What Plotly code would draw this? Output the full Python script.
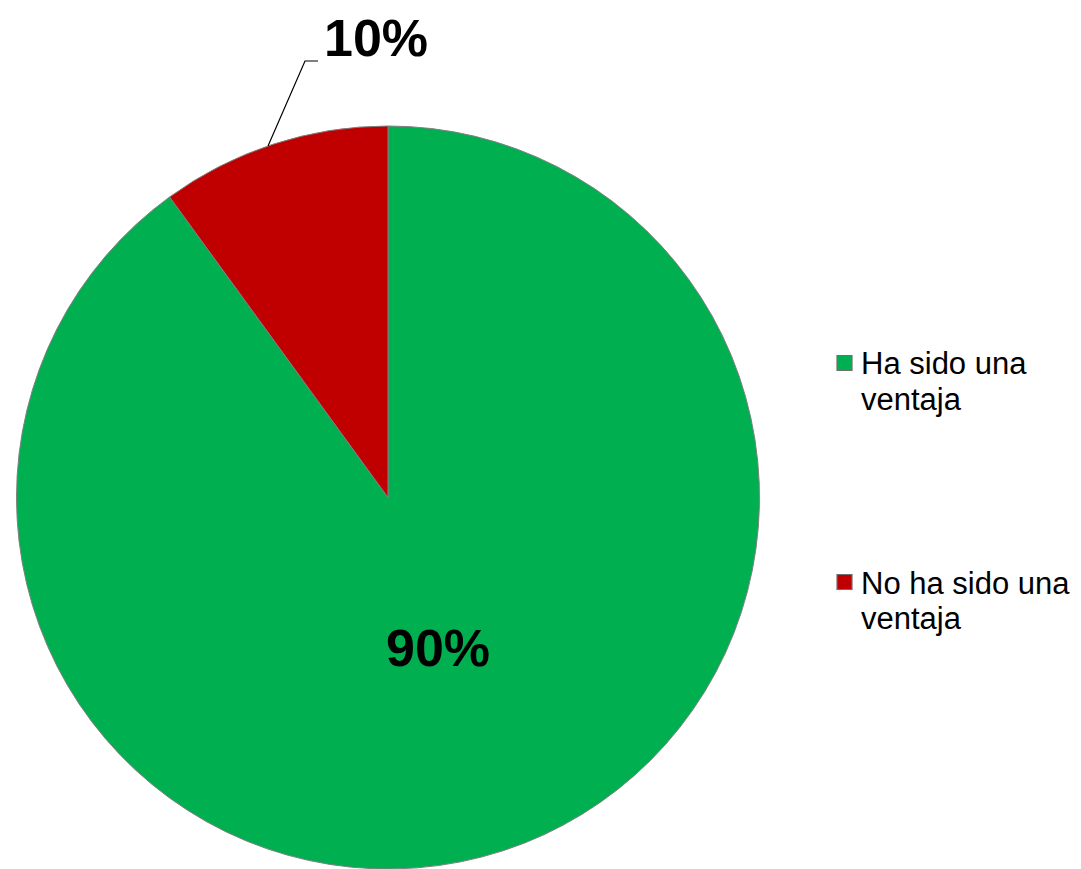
import plotly.graph_objects as go

# Survey answers and their shares (percent)
labels = ["Ha sido una ventaja", "No ha sido una ventaja"]
legend_lines = [["Ha sido una", "ventaja"], ["No ha sido una", "ventaja"]]
values = [90, 10]
colors = ["#00B050", "#C00000"]

W, H = 1081, 869

def px(x):
    return x / W

def py(y):
    return 1 - y / H

FONT = "Liberation Sans, Arial, sans-serif"

fig = go.Figure()
fig.add_trace(go.Pie(
    labels=labels,
    values=values,
    sort=False,
    direction="clockwise",
    rotation=0,
    textinfo="none",
    hoverinfo="label+percent",
    marker=dict(colors=colors, line=dict(color="#7F7F7F", width=1)),
    domain=dict(x=[px(15), px(761)], y=[0, py(126)]),
    showlegend=False,
))

# Percentage labels
label_pos = [(438, 648), (376, 38)]
for v, (x, y) in zip(values, label_pos):
    fig.add_annotation(
        x=px(x), y=py(y), xref="paper", yref="paper",
        text=f"<b>{v}%</b>", showarrow=False,
        xanchor="center", yanchor="middle",
        font=dict(family=FONT, size=52, color="black"),
    )

# Leader line for the small slice label
fig.add_shape(
    type="path", xref="paper", yref="paper",
    path=f"M {px(268)},{py(146)} L {px(305)},{py(61)} L {px(318)},{py(61)}",
    line=dict(color="black", width=1.2),
)

# Legend drawn on the right, one line of text per annotation
legend_top = [363, 582]
line_gap = 35
for lines, col, my in zip(legend_lines, colors, legend_top):
    fig.add_shape(
        type="rect", xref="paper", yref="paper",
        x0=px(837), x1=px(852), y0=py(my - 7.5), y1=py(my + 7.5),
        fillcolor=col, line=dict(color="#6F6F6F", width=1.2),
    )
    for i, line in enumerate(lines):
        fig.add_annotation(
            x=px(859), y=py(my + 1 + i * line_gap), xref="paper", yref="paper",
            text=line, showarrow=False, align="left",
            xanchor="left", yanchor="middle",
            font=dict(family=FONT, size=31, color="black"),
        )

fig.update_layout(
    width=W, height=H,
    margin=dict(l=0, r=0, t=0, b=0),
    paper_bgcolor="white",
    plot_bgcolor="white",
)

fig.write_html("out.html")
